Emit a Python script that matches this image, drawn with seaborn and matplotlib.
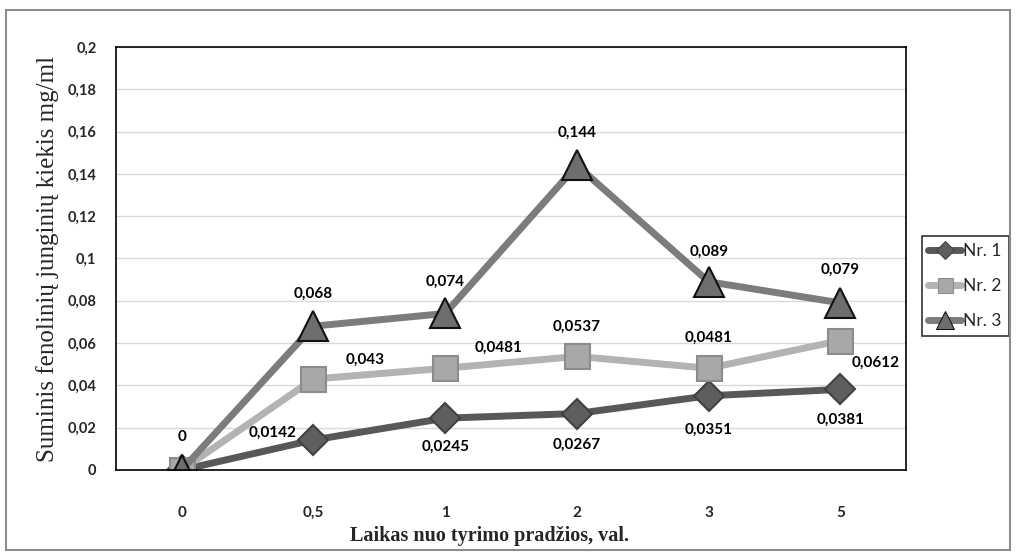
import pandas as pd
import seaborn as sns
import matplotlib.pyplot as plt
from matplotlib.patches import Rectangle

# data
times = ['0', '0,5', '1', '2', '3', '5']
nr1 = [0, 0.0142, 0.0245, 0.0267, 0.0351, 0.0381]
nr2 = [0, 0.043, 0.0481, 0.0537, 0.0481, 0.0612]
nr3 = [0, 0.068, 0.074, 0.144, 0.089, 0.079]
series_names = ['Nr. 1', 'Nr. 2', 'Nr. 3']
y_ticks = [0, 0.02, 0.04, 0.06, 0.08, 0.1, 0.12, 0.14, 0.16, 0.18, 0.2]

df = pd.DataFrame({'Laikas': times * 3,
                   'Kiekis': nr1 + nr2 + nr3,
                   'Serija': [s for s in series_names for _ in times]})

sns.set_style('white')
plt.rcParams['font.family'] = ['Lato', 'DejaVu Sans']

fig = plt.figure(figsize=(10.16, 5.56), dpi=100)
ax = fig.add_axes([0.114, 0.1547, 0.778, 0.7608])

colors = {'Nr. 1': '#585858', 'Nr. 2': '#b3b3b3', 'Nr. 3': '#7c7c7c'}
markers = {'Nr. 1': 'D', 'Nr. 2': 's', 'Nr. 3': '^'}
sns.lineplot(data=df, x='Laikas', y='Kiekis', hue='Serija', style='Serija',
             palette=colors, markers=markers, dashes=False, linewidth=5,
             sort=False, ax=ax)

# marker styling per series
msize = {'Nr. 1': 15, 'Nr. 2': 18, 'Nr. 3': 22}
medge = {'Nr. 1': '#404040', 'Nr. 2': '#8c8c8c', 'Nr. 3': '#111111'}
mface = {'Nr. 1': '#5e5e5e', 'Nr. 2': '#a8a8a8', 'Nr. 3': '#6e6e6e'}
for line, name in zip(ax.get_lines()[:3], series_names):
    line.set_markersize(msize[name])
    line.set_markeredgecolor(medge[name])
    line.set_markerfacecolor(mface[name])
    line.set_markeredgewidth(1.5)
    line.set_solid_capstyle('round')

# data labels
lab_kw = dict(textcoords='offset pixels', ha='center', va='center',
              fontsize=11, fontweight='bold', color='black')
off1 = [None, (-41, 7), (0, -29), (0, -31), (0, -34), (0, -30)]
off2 = [None, (52, 19), (53, 20), (0, 30), (0, 30), (35, -22)]
off3 = [(0, 33), (0, 32), (0, 32), (0, 33), (0, 30), (0, 33)]


def fmt(v):
    return ('%g' % v).replace('.', ',')


for vals, offs in [(nr1, off1), (nr2, off2), (nr3, off3)]:
    for i, (v, o) in enumerate(zip(vals, offs)):
        if o is None:
            continue
        ax.annotate(fmt(v), (i, v), xytext=o, **lab_kw)

ax.set_xlim(-0.5, 5.5)
ax.set_ylim(0, 0.2)
ax.set_yticks(y_ticks)
ax.set_yticklabels([fmt(t) for t in y_ticks], fontsize=10.5, fontweight='bold')
ax.set_xticks(range(len(times)))
ax.set_xticklabels(times, fontsize=11, fontweight='bold')
ax.tick_params(axis='x', length=0, pad=26)
ax.tick_params(axis='y', length=0, pad=14)
ax.grid(axis='y', color='#d9d9d9', linewidth=1)
ax.set_axisbelow(True)
for sp in ax.spines.values():
    sp.set_color('black')
    sp.set_linewidth(1.2)

ax.set_ylabel('Suminis fenolinių junginių kiekis mg/ml', family='Liberation Serif',
              fontsize=18, labelpad=6)
ax.set_xlabel('Laikas nuo tyrimo pradžios, val.', family='Liberation Serif',
              fontsize=14.5, fontweight='bold')
ax.xaxis.set_label_coords(0.473, -0.133)

handles, labels = ax.get_legend_handles_labels()
leg = ax.legend(handles, labels, loc='upper left', bbox_to_anchor=(0.907, 0.575),
                bbox_transform=fig.transFigure, frameon=True, fancybox=False,
                fontsize=12.5, handlelength=1.9, handletextpad=0.1,
                borderpad=0.4, borderaxespad=0, labelspacing=1.1)
leg.get_frame().set_edgecolor('black')
leg.get_frame().set_linewidth(1.2)
for h, name in zip(leg.get_lines(), series_names):
    h.set_markersize(msize[name] * 0.6)
    h.set_markeredgecolor(medge[name])
    h.set_markerfacecolor(mface[name])
    h.set_linewidth(5)

# outer chart border
fig.patches.append(Rectangle((0.006, 0.01), 0.988, 0.972, transform=fig.transFigure,
                             fill=False, edgecolor='#8c8c8c', linewidth=1.5))

fig.savefig('out.png', dpi=100)
